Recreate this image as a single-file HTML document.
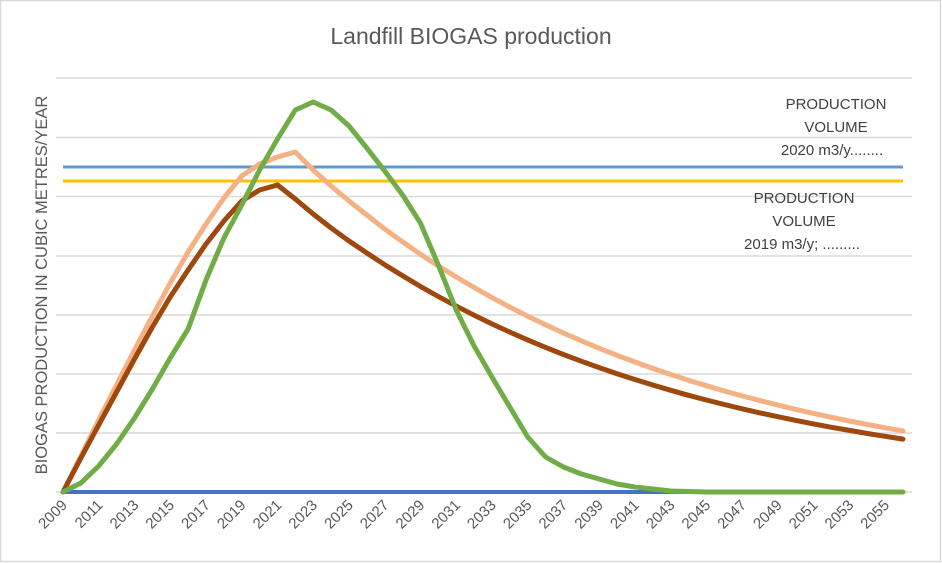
<!DOCTYPE html>
<html><head><meta charset="utf-8"><style>
html,body{margin:0;padding:0;background:#fff}
svg{display:block;font-family:"Liberation Sans",Calibri,sans-serif}
</style></head><body>
<svg id="c" width="942" height="563" viewBox="0 0 942 563" xmlns="http://www.w3.org/2000/svg">
<rect x="0.5" y="0.5" width="940" height="561" fill="#fff" stroke="#d9d9d9" stroke-width="1.5"/>
<text x="471" y="44" text-anchor="middle" font-size="23" fill="#595959">Landfill BIOGAS production</text>
<g stroke="#d9d9d9" stroke-width="1.5">
<line x1="56" x2="912" y1="78" y2="78"/><line x1="56" x2="912" y1="137.5" y2="137.5"/>
<line x1="56" x2="912" y1="196.5" y2="196.5"/><line x1="56" x2="912" y1="256" y2="256"/>
<line x1="56" x2="912" y1="315" y2="315"/><line x1="56" x2="912" y1="374" y2="374"/>
<line x1="56" x2="912" y1="433" y2="433"/><line x1="56" x2="912" y1="492" y2="492"/>
</g>
<text transform="translate(47,285) rotate(-90)" text-anchor="middle" font-size="16.5" fill="#595959">BIOGAS PRODUCTION IN CUBIC METRES/YEAR</text>
<line x1="63" x2="903" y1="167" y2="167" stroke="#5b9bd5" stroke-width="3"/>
<line x1="63" x2="903" y1="181" y2="181" stroke="#ffc000" stroke-width="3"/>
<line x1="63" x2="903" y1="492" y2="492" stroke="#4472c4" stroke-width="4"/>
<g font-size="15" fill="#404040" text-anchor="middle">
<text x="836" y="109">PRODUCTION</text><text x="836" y="132">VOLUME</text><text x="832" y="155">2020 m3/y........</text>
<text x="804" y="203">PRODUCTION</text><text x="804" y="226">VOLUME</text><text x="802" y="249">2019 m3/y; .........</text>
</g>
<g id="series" fill="none" stroke-width="5" stroke-linejoin="round" stroke-linecap="round"></g>
<g id="ticks" font-size="15" fill="#595959"></g>
</svg>
<script>
var x0=63,dx=840/47,ns="http://www.w3.org/2000/svg";
function X(i){return x0+i*dx;}
var green=[492,483,466,444,418,389,358,329,280,238,205,170,139,110,102,110,126,148,171,195,223,265,310,346,377,407,437,457,467,474,479,484,487,489,491,491.5];
while(green.length<48)green.push(492);
var peach=[492,456,420,385,350,316,283,252,224,198,176,164,157,152,170,186,201,215,229];
while(peach.length<48){var k=peach.length-18;peach.push(492-263*Math.pow(0.9509,k));}
var brown=[492,458,425,392,359,327,297,270,244,221,201,190,185,199,214,228,241,253];
while(brown.length<48){var k=brown.length-17;brown.push(492-239*Math.pow(0.951,k));}
function pl(arr,col){var p=document.createElementNS(ns,"polyline");p.setAttribute("points",arr.map(function(y,i){return X(i).toFixed(1)+","+y.toFixed(1)}).join(" "));p.setAttribute("stroke",col);document.getElementById("series").appendChild(p);}
pl(peach,"#f4b183");pl(brown,"#9e480e");pl(green,"#70ad47");
var t=document.getElementById("ticks");
for(var i=0;i<48;i+=2){var tx=document.createElementNS(ns,"text");var x=X(i)+5,y=506;tx.setAttribute("transform","translate("+x.toFixed(1)+","+y+") rotate(-45)");tx.setAttribute("text-anchor","end");tx.textContent=2009+i;t.appendChild(tx);}
</script>
</body></html>
